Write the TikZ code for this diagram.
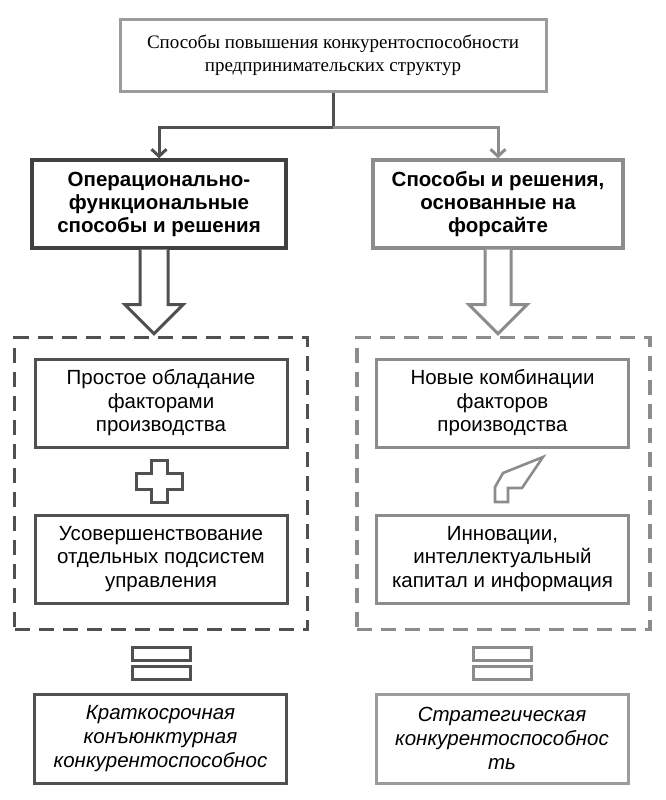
\documentclass[tikz,border=0pt]{standalone}
\usepackage{fontspec}
\setmainfont{Liberation Sans}
\newfontfamily\seriffont{Liberation Serif}
\usetikzlibrary{arrows.meta,calc}
\definecolor{darkline}{HTML}{505050}
\definecolor{lightline}{HTML}{8C8C8C}
\definecolor{topline}{HTML}{9C9C9C}
\tikzstyle{box}=[draw,line width=3pt,align=center,inner sep=0pt,minimum width=252pt,minimum height=88pt,font=\fontsize{20.5}{23.5}\selectfont]
\tikzstyle{headbox}=[box,line width=3.4pt,font=\bfseries\fontsize{20.5}{23}\selectfont]
\tikzstyle{dashbox}=[draw,line width=3.4pt,dash pattern=on 15pt off 9pt,minimum width=293pt,minimum height=292pt,inner sep=0pt]
\tikzstyle{eqbar}=[draw,line width=3pt,minimum width=58pt,minimum height=13pt,inner sep=0pt]
\tikzstyle{connector}=[draw,line width=3pt,-{Straight Barb[length=7pt,width=15pt]}]
\tikzstyle{blockarrow}=[line width=3pt,fill=white,line join=miter]

\begin{document}
\begin{tikzpicture}[x=1pt,y=-1pt]
    \useasboundingbox (0,0) rectangle (666,800);

    \node[box,draw=topline,minimum width=426pt,minimum height=71pt,font=\seriffont\fontsize{19}{23}\selectfont] (top) at (333,55.5)
        {Способы повышения конкурентоспособности\\предпринимательских структур};

    \node[headbox,draw=black!75,minimum width=254pt] (opl) at (159,204) {Операционально-\\функциональные\\способы и решения};
    \node[headbox,draw=lightline,minimum width=250pt] (opr) at (498,204) {Способы и решения,\\основанные на\\форсайте};

    % branches from the top box
    \coordinate (split) at ($(top.south)+(0,35)$);
    \draw[connector,darkline] (top.south) -- (split) -| (opl.north);
    \draw[connector,lightline] (split) -| (opr.north);

    % block arrows
    \draw[blockarrow,draw=darkline] ($(opl.south)+(-19,0)$) -- ++(0,55) -- ++(-15,0) -- ++(29,29) -- ++(29,-29) -- ++(-15,0) -- ++(0,-55);
    \draw[blockarrow,draw=lightline] ($(opr.south)+(-13,0)$) -- ++(0,55) -- ++(-16,0) -- ++(29,29) -- ++(29,-29) -- ++(-16,0) -- ++(0,-55);

    \node[dashbox,draw=darkline] (dl) at (161,483.5) {};
    \node[dashbox,draw=lightline] (dr) at (503.5,483.5) {};

    \foreach \pos/ \name/ \col/ \txt in {{(161,403)/pl/darkline/{Простое обладание\\факторами\\производства}},
        {(161,559)/ul/darkline/{Усовершенствование\\отдельных подсистем\\управления}},
        {(502.5,403)/nr/lightline/{Новые комбинации\\факторов\\производства}},
        {(502.5,559)/ir/lightline/{Инновации,\\интеллектуальный\\капитал и информация}}}
        \node[box,draw=\col] (\name) at \pos {\txt};

%signs
    \coordinate (plus) at (159,481);
    \draw[darkline,line width=3pt,shift={(plus)}] (-8,-21) -- (8,-21) -- (8,-8) -- (23,-8) -- (23,8) -- (8,8) -- (8,21)
        -- (-8,21) -- (-8,8) -- (-23,8) -- (-23,-8) -- (-8,-8) -- cycle;
    \draw[lightline,line width=2.6pt] (543,457) -- (503,473) -- (495,487) -- (495,502) -- (508,502) -- (508,488) -- (522,488) -- cycle;

    \foreach \pos/ \name/ \col in {{(161,654)/eql1/darkline}, {(161,672.5)/eql2/darkline}, {(502,654)/eqr1/lightline}, {(502,672.5)/eqr2/lightline}}
        \node[eqbar,draw=\col] (\name) at \pos {};

    \node[box,draw=darkline,minimum height=89pt,font=\itshape\fontsize{20.5}{24}\selectfont] (kl) at (160.5,738.5)
        {Краткосрочная\\конъюнктурная\\конкурентоспособнос};
    \node[box,draw=topline,minimum height=89pt,font=\itshape\fontsize{20.5}{24}\selectfont] (kr) at (502,738.5)
        {Стратегическая\\конкурентоспособнос\\ть};

\end{tikzpicture}
\end{document}
